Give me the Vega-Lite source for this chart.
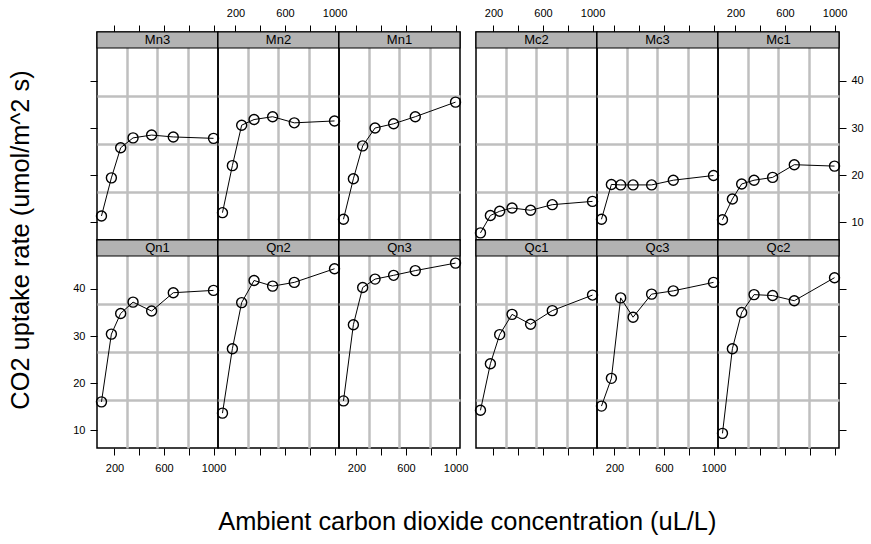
{
  "$schema": "https://vega.github.io/schema/vega-lite/v6.json",
  "padding": {"left": 8, "top": 6, "right": 5, "bottom": 5},
  "config": {
    "font": "Liberation Sans",
    "view": {"stroke": "black", "strokeWidth": 1.5},
    "axis": {"labelFont": "Liberation Sans", "labelColor": "black", "tickColor": "black", "tickWidth": 1, "labelFontSize": 11, "domain": false, "title": null, "labelFlush": false, "labelOverlap": false, "gridColor": "#bfbfbf", "gridWidth": 2.5, "gridOpacity": 1, "format": "d"},
    "title": {"font": "Liberation Sans", "fontWeight": "normal", "color": "black", "fontSize": 25.4}
  },
  "datasets": {
    "plants": [
      {"Plant": "Mn3"}, {"Plant": "Mn2"}, {"Plant": "Mn1"}, {"Plant": "Mc2"}, {"Plant": "Mc3"}, {"Plant": "Mc1"},
      {"Plant": "Qn1"}, {"Plant": "Qn2"}, {"Plant": "Qn3"}, {"Plant": "Qc1"}, {"Plant": "Qc3"}, {"Plant": "Qc2"}
    ],
    "co2": [
      {"Plant": "Qn1", "conc": 95, "uptake": 16.0}, {"Plant": "Qn1", "conc": 175, "uptake": 30.4}, {"Plant": "Qn1", "conc": 250, "uptake": 34.8}, {"Plant": "Qn1", "conc": 350, "uptake": 37.2}, {"Plant": "Qn1", "conc": 500, "uptake": 35.3}, {"Plant": "Qn1", "conc": 675, "uptake": 39.2}, {"Plant": "Qn1", "conc": 1000, "uptake": 39.7},
      {"Plant": "Qn2", "conc": 95, "uptake": 13.6}, {"Plant": "Qn2", "conc": 175, "uptake": 27.3}, {"Plant": "Qn2", "conc": 250, "uptake": 37.1}, {"Plant": "Qn2", "conc": 350, "uptake": 41.8}, {"Plant": "Qn2", "conc": 500, "uptake": 40.6}, {"Plant": "Qn2", "conc": 675, "uptake": 41.4}, {"Plant": "Qn2", "conc": 1000, "uptake": 44.3},
      {"Plant": "Qn3", "conc": 95, "uptake": 16.2}, {"Plant": "Qn3", "conc": 175, "uptake": 32.4}, {"Plant": "Qn3", "conc": 250, "uptake": 40.3}, {"Plant": "Qn3", "conc": 350, "uptake": 42.1}, {"Plant": "Qn3", "conc": 500, "uptake": 42.9}, {"Plant": "Qn3", "conc": 675, "uptake": 43.9}, {"Plant": "Qn3", "conc": 1000, "uptake": 45.5},
      {"Plant": "Qc1", "conc": 95, "uptake": 14.2}, {"Plant": "Qc1", "conc": 175, "uptake": 24.1}, {"Plant": "Qc1", "conc": 250, "uptake": 30.3}, {"Plant": "Qc1", "conc": 350, "uptake": 34.6}, {"Plant": "Qc1", "conc": 500, "uptake": 32.5}, {"Plant": "Qc1", "conc": 675, "uptake": 35.4}, {"Plant": "Qc1", "conc": 1000, "uptake": 38.7},
      {"Plant": "Qc2", "conc": 95, "uptake": 9.3}, {"Plant": "Qc2", "conc": 175, "uptake": 27.3}, {"Plant": "Qc2", "conc": 250, "uptake": 35.0}, {"Plant": "Qc2", "conc": 350, "uptake": 38.8}, {"Plant": "Qc2", "conc": 500, "uptake": 38.6}, {"Plant": "Qc2", "conc": 675, "uptake": 37.5}, {"Plant": "Qc2", "conc": 1000, "uptake": 42.4},
      {"Plant": "Qc3", "conc": 95, "uptake": 15.1}, {"Plant": "Qc3", "conc": 175, "uptake": 21.0}, {"Plant": "Qc3", "conc": 250, "uptake": 38.1}, {"Plant": "Qc3", "conc": 350, "uptake": 34.0}, {"Plant": "Qc3", "conc": 500, "uptake": 38.9}, {"Plant": "Qc3", "conc": 675, "uptake": 39.6}, {"Plant": "Qc3", "conc": 1000, "uptake": 41.4},
      {"Plant": "Mn1", "conc": 95, "uptake": 10.6}, {"Plant": "Mn1", "conc": 175, "uptake": 19.2}, {"Plant": "Mn1", "conc": 250, "uptake": 26.2}, {"Plant": "Mn1", "conc": 350, "uptake": 30.0}, {"Plant": "Mn1", "conc": 500, "uptake": 30.9}, {"Plant": "Mn1", "conc": 675, "uptake": 32.4}, {"Plant": "Mn1", "conc": 1000, "uptake": 35.5},
      {"Plant": "Mn2", "conc": 95, "uptake": 12.0}, {"Plant": "Mn2", "conc": 175, "uptake": 22.0}, {"Plant": "Mn2", "conc": 250, "uptake": 30.6}, {"Plant": "Mn2", "conc": 350, "uptake": 31.8}, {"Plant": "Mn2", "conc": 500, "uptake": 32.4}, {"Plant": "Mn2", "conc": 675, "uptake": 31.1}, {"Plant": "Mn2", "conc": 1000, "uptake": 31.5},
      {"Plant": "Mn3", "conc": 95, "uptake": 11.3}, {"Plant": "Mn3", "conc": 175, "uptake": 19.4}, {"Plant": "Mn3", "conc": 250, "uptake": 25.8}, {"Plant": "Mn3", "conc": 350, "uptake": 27.9}, {"Plant": "Mn3", "conc": 500, "uptake": 28.5}, {"Plant": "Mn3", "conc": 675, "uptake": 28.1}, {"Plant": "Mn3", "conc": 1000, "uptake": 27.8},
      {"Plant": "Mc1", "conc": 95, "uptake": 10.5}, {"Plant": "Mc1", "conc": 175, "uptake": 14.9}, {"Plant": "Mc1", "conc": 250, "uptake": 18.1}, {"Plant": "Mc1", "conc": 350, "uptake": 18.9}, {"Plant": "Mc1", "conc": 500, "uptake": 19.5}, {"Plant": "Mc1", "conc": 675, "uptake": 22.2}, {"Plant": "Mc1", "conc": 1000, "uptake": 21.9},
      {"Plant": "Mc2", "conc": 95, "uptake": 7.7}, {"Plant": "Mc2", "conc": 175, "uptake": 11.4}, {"Plant": "Mc2", "conc": 250, "uptake": 12.3}, {"Plant": "Mc2", "conc": 350, "uptake": 13.0}, {"Plant": "Mc2", "conc": 500, "uptake": 12.5}, {"Plant": "Mc2", "conc": 675, "uptake": 13.7}, {"Plant": "Mc2", "conc": 1000, "uptake": 14.4},
      {"Plant": "Mc3", "conc": 95, "uptake": 10.6}, {"Plant": "Mc3", "conc": 175, "uptake": 18.0}, {"Plant": "Mc3", "conc": 250, "uptake": 17.9}, {"Plant": "Mc3", "conc": 350, "uptake": 17.9}, {"Plant": "Mc3", "conc": 500, "uptake": 17.9}, {"Plant": "Mc3", "conc": 675, "uptake": 18.9}, {"Plant": "Mc3", "conc": 1000, "uptake": 19.9}
    ]
  },
  "title": {"text": "Ambient carbon dioxide concentration (uL/L)", "orient": "bottom", "anchor": "middle", "offset": 36, "dx": 31},
  "vconcat": [
    {
      "title": {"text": "CO2 uptake rate (umol/m^2 s)", "orient": "left", "anchor": "middle", "offset": 38},
      "columns": 7,
      "spacing": 0,
      "bounds": "flush",
      "concat": [
        {
          "width": 121, "height": 208,
          "resolve": {"axis": {"x": "independent", "y": "independent"}},
          "layer": [
            {"data": {"name": "co2"}, "transform": [{"filter": "datum.Plant == 'Mn3'"}], "mark": {"type": "line", "color": "black", "strokeWidth": 1},
             "encoding": {"x": {"field": "conc", "type": "quantitative", "scale": {"domain": [58.8, 1036.2], "nice": false, "zero": false}, "axis": {"orient": "bottom", "values": [303.15, 547.5, 791.85], "grid": true, "ticks": false, "labels": false}},
                          "y": {"field": "uptake", "type": "quantitative", "scale": {"domain": [6.19, 50.41], "nice": false, "zero": false}, "axis": {"orient": "left", "values": [16.395, 26.6, 36.805], "grid": true, "ticks": false, "labels": false}}}},
            {"data": {"name": "co2"}, "transform": [{"filter": "datum.Plant == 'Mn3'"}], "mark": {"type": "point", "shape": "circle", "filled": false, "color": "black", "opacity": 1, "size": 100, "strokeWidth": 1.4},
             "encoding": {"x": {"field": "conc", "type": "quantitative", "axis": {"orient": "top", "values": [200, 400, 600, 800, 1000], "grid": false, "tickSize": 7, "labels": false}},
                          "y": {"field": "uptake", "type": "quantitative", "axis": {"orient": "left", "values": [10, 20, 30, 40], "grid": false, "tickSize": 7, "labels": false}}}},
            {"data": {"name": "plants"}, "transform": [{"filter": "datum.Plant == 'Mn3'"}], "mark": {"type": "rect", "fill": "#b3b3b3", "stroke": "black", "strokeWidth": 1.2},
             "encoding": {"y": {"datum": 47.01, "type": "quantitative", "axis": null}, "y2": {"datum": 50.41}}},
            {"data": {"name": "plants"}, "transform": [{"filter": "datum.Plant == 'Mn3'"}], "mark": {"type": "text", "fontSize": 13, "color": "black", "baseline": "middle", "align": "center"},
             "encoding": {"x": {"datum": 547.5, "type": "quantitative", "axis": null}, "y": {"datum": 48.71, "type": "quantitative", "axis": null}, "text": {"field": "Plant"}}}
          ]
        },
        {
          "width": 121, "height": 208,
          "resolve": {"axis": {"x": "independent", "y": "independent"}},
          "layer": [
            {"data": {"name": "co2"}, "transform": [{"filter": "datum.Plant == 'Mn2'"}], "mark": {"type": "line", "color": "black", "strokeWidth": 1},
             "encoding": {"x": {"field": "conc", "type": "quantitative", "scale": {"domain": [58.8, 1036.2], "nice": false, "zero": false}, "axis": {"orient": "bottom", "values": [303.15, 547.5, 791.85], "grid": true, "ticks": false, "labels": false}},
                          "y": {"field": "uptake", "type": "quantitative", "scale": {"domain": [6.19, 50.41], "nice": false, "zero": false}, "axis": {"orient": "left", "values": [16.395, 26.6, 36.805], "grid": true, "ticks": false, "labels": false}}}},
            {"data": {"name": "co2"}, "transform": [{"filter": "datum.Plant == 'Mn2'"}], "mark": {"type": "point", "shape": "circle", "filled": false, "color": "black", "opacity": 1, "size": 100, "strokeWidth": 1.4},
             "encoding": {"x": {"field": "conc", "type": "quantitative", "axis": {"orient": "top", "values": [200, 400, 600, 800, 1000], "grid": false, "tickSize": 7, "labelPadding": 7, "labelExpr": "datum.value == 400 || datum.value == 800 ? '' : datum.label"}},
                          "y": {"field": "uptake", "type": "quantitative", "axis": null}}},
            {"data": {"name": "plants"}, "transform": [{"filter": "datum.Plant == 'Mn2'"}], "mark": {"type": "rect", "fill": "#b3b3b3", "stroke": "black", "strokeWidth": 1.2},
             "encoding": {"y": {"datum": 47.01, "type": "quantitative", "axis": null}, "y2": {"datum": 50.41}}},
            {"data": {"name": "plants"}, "transform": [{"filter": "datum.Plant == 'Mn2'"}], "mark": {"type": "text", "fontSize": 13, "color": "black", "baseline": "middle", "align": "center"},
             "encoding": {"x": {"datum": 547.5, "type": "quantitative", "axis": null}, "y": {"datum": 48.71, "type": "quantitative", "axis": null}, "text": {"field": "Plant"}}}
          ]
        },
        {
          "width": 121, "height": 208,
          "resolve": {"axis": {"x": "independent", "y": "independent"}},
          "layer": [
            {"data": {"name": "co2"}, "transform": [{"filter": "datum.Plant == 'Mn1'"}], "mark": {"type": "line", "color": "black", "strokeWidth": 1},
             "encoding": {"x": {"field": "conc", "type": "quantitative", "scale": {"domain": [58.8, 1036.2], "nice": false, "zero": false}, "axis": {"orient": "bottom", "values": [303.15, 547.5, 791.85], "grid": true, "ticks": false, "labels": false}},
                          "y": {"field": "uptake", "type": "quantitative", "scale": {"domain": [6.19, 50.41], "nice": false, "zero": false}, "axis": {"orient": "left", "values": [16.395, 26.6, 36.805], "grid": true, "ticks": false, "labels": false}}}},
            {"data": {"name": "co2"}, "transform": [{"filter": "datum.Plant == 'Mn1'"}], "mark": {"type": "point", "shape": "circle", "filled": false, "color": "black", "opacity": 1, "size": 100, "strokeWidth": 1.4},
             "encoding": {"x": {"field": "conc", "type": "quantitative", "axis": {"orient": "top", "values": [200, 400, 600, 800, 1000], "grid": false, "tickSize": 7, "labels": false}},
                          "y": {"field": "uptake", "type": "quantitative", "axis": null}}},
            {"data": {"name": "plants"}, "transform": [{"filter": "datum.Plant == 'Mn1'"}], "mark": {"type": "rect", "fill": "#b3b3b3", "stroke": "black", "strokeWidth": 1.2},
             "encoding": {"y": {"datum": 47.01, "type": "quantitative", "axis": null}, "y2": {"datum": 50.41}}},
            {"data": {"name": "plants"}, "transform": [{"filter": "datum.Plant == 'Mn1'"}], "mark": {"type": "text", "fontSize": 13, "color": "black", "baseline": "middle", "align": "center"},
             "encoding": {"x": {"datum": 547.5, "type": "quantitative", "axis": null}, "y": {"datum": 48.71, "type": "quantitative", "axis": null}, "text": {"field": "Plant"}}}
          ]
        },
        {
          "width": 16, "height": 208, "view": {"stroke": null},
          "data": {"values": []}, "mark": "point", "encoding": {}
        },
        {
          "width": 121, "height": 208,
          "resolve": {"axis": {"x": "independent", "y": "independent"}},
          "layer": [
            {"data": {"name": "co2"}, "transform": [{"filter": "datum.Plant == 'Mc2'"}], "mark": {"type": "line", "color": "black", "strokeWidth": 1},
             "encoding": {"x": {"field": "conc", "type": "quantitative", "scale": {"domain": [58.8, 1036.2], "nice": false, "zero": false}, "axis": {"orient": "bottom", "values": [303.15, 547.5, 791.85], "grid": true, "ticks": false, "labels": false}},
                          "y": {"field": "uptake", "type": "quantitative", "scale": {"domain": [6.19, 50.41], "nice": false, "zero": false}, "axis": {"orient": "left", "values": [16.395, 26.6, 36.805], "grid": true, "ticks": false, "labels": false}}}},
            {"data": {"name": "co2"}, "transform": [{"filter": "datum.Plant == 'Mc2'"}], "mark": {"type": "point", "shape": "circle", "filled": false, "color": "black", "opacity": 1, "size": 100, "strokeWidth": 1.4},
             "encoding": {"x": {"field": "conc", "type": "quantitative", "axis": {"orient": "top", "values": [200, 400, 600, 800, 1000], "grid": false, "tickSize": 7, "labelPadding": 7, "labelExpr": "datum.value == 400 || datum.value == 800 ? '' : datum.label"}},
                          "y": {"field": "uptake", "type": "quantitative", "axis": null}}},
            {"data": {"name": "plants"}, "transform": [{"filter": "datum.Plant == 'Mc2'"}], "mark": {"type": "rect", "fill": "#b3b3b3", "stroke": "black", "strokeWidth": 1.2},
             "encoding": {"y": {"datum": 47.01, "type": "quantitative", "axis": null}, "y2": {"datum": 50.41}}},
            {"data": {"name": "plants"}, "transform": [{"filter": "datum.Plant == 'Mc2'"}], "mark": {"type": "text", "fontSize": 13, "color": "black", "baseline": "middle", "align": "center"},
             "encoding": {"x": {"datum": 547.5, "type": "quantitative", "axis": null}, "y": {"datum": 48.71, "type": "quantitative", "axis": null}, "text": {"field": "Plant"}}}
          ]
        },
        {
          "width": 121, "height": 208,
          "resolve": {"axis": {"x": "independent", "y": "independent"}},
          "layer": [
            {"data": {"name": "co2"}, "transform": [{"filter": "datum.Plant == 'Mc3'"}], "mark": {"type": "line", "color": "black", "strokeWidth": 1},
             "encoding": {"x": {"field": "conc", "type": "quantitative", "scale": {"domain": [58.8, 1036.2], "nice": false, "zero": false}, "axis": {"orient": "bottom", "values": [303.15, 547.5, 791.85], "grid": true, "ticks": false, "labels": false}},
                          "y": {"field": "uptake", "type": "quantitative", "scale": {"domain": [6.19, 50.41], "nice": false, "zero": false}, "axis": {"orient": "left", "values": [16.395, 26.6, 36.805], "grid": true, "ticks": false, "labels": false}}}},
            {"data": {"name": "co2"}, "transform": [{"filter": "datum.Plant == 'Mc3'"}], "mark": {"type": "point", "shape": "circle", "filled": false, "color": "black", "opacity": 1, "size": 100, "strokeWidth": 1.4},
             "encoding": {"x": {"field": "conc", "type": "quantitative", "axis": {"orient": "top", "values": [200, 400, 600, 800, 1000], "grid": false, "tickSize": 7, "labels": false}},
                          "y": {"field": "uptake", "type": "quantitative", "axis": null}}},
            {"data": {"name": "plants"}, "transform": [{"filter": "datum.Plant == 'Mc3'"}], "mark": {"type": "rect", "fill": "#b3b3b3", "stroke": "black", "strokeWidth": 1.2},
             "encoding": {"y": {"datum": 47.01, "type": "quantitative", "axis": null}, "y2": {"datum": 50.41}}},
            {"data": {"name": "plants"}, "transform": [{"filter": "datum.Plant == 'Mc3'"}], "mark": {"type": "text", "fontSize": 13, "color": "black", "baseline": "middle", "align": "center"},
             "encoding": {"x": {"datum": 547.5, "type": "quantitative", "axis": null}, "y": {"datum": 48.71, "type": "quantitative", "axis": null}, "text": {"field": "Plant"}}}
          ]
        },
        {
          "width": 121, "height": 208,
          "resolve": {"axis": {"x": "independent", "y": "independent"}},
          "layer": [
            {"data": {"name": "co2"}, "transform": [{"filter": "datum.Plant == 'Mc1'"}], "mark": {"type": "line", "color": "black", "strokeWidth": 1},
             "encoding": {"x": {"field": "conc", "type": "quantitative", "scale": {"domain": [58.8, 1036.2], "nice": false, "zero": false}, "axis": {"orient": "bottom", "values": [303.15, 547.5, 791.85], "grid": true, "ticks": false, "labels": false}},
                          "y": {"field": "uptake", "type": "quantitative", "scale": {"domain": [6.19, 50.41], "nice": false, "zero": false}, "axis": {"orient": "left", "values": [16.395, 26.6, 36.805], "grid": true, "ticks": false, "labels": false}}}},
            {"data": {"name": "co2"}, "transform": [{"filter": "datum.Plant == 'Mc1'"}], "mark": {"type": "point", "shape": "circle", "filled": false, "color": "black", "opacity": 1, "size": 100, "strokeWidth": 1.4},
             "encoding": {"x": {"field": "conc", "type": "quantitative", "axis": {"orient": "top", "values": [200, 400, 600, 800, 1000], "grid": false, "tickSize": 7, "labelPadding": 7, "labelExpr": "datum.value == 400 || datum.value == 800 ? '' : datum.label"}},
                          "y": {"field": "uptake", "type": "quantitative", "axis": {"orient": "right", "values": [10, 20, 30, 40], "grid": false, "tickSize": 7, "labelPadding": 5}}}},
            {"data": {"name": "plants"}, "transform": [{"filter": "datum.Plant == 'Mc1'"}], "mark": {"type": "rect", "fill": "#b3b3b3", "stroke": "black", "strokeWidth": 1.2},
             "encoding": {"y": {"datum": 47.01, "type": "quantitative", "axis": null}, "y2": {"datum": 50.41}}},
            {"data": {"name": "plants"}, "transform": [{"filter": "datum.Plant == 'Mc1'"}], "mark": {"type": "text", "fontSize": 13, "color": "black", "baseline": "middle", "align": "center"},
             "encoding": {"x": {"datum": 547.5, "type": "quantitative", "axis": null}, "y": {"datum": 48.71, "type": "quantitative", "axis": null}, "text": {"field": "Plant"}}}
          ]
        },
        {
          "width": 121, "height": 208,
          "resolve": {"axis": {"x": "independent", "y": "independent"}},
          "layer": [
            {"data": {"name": "co2"}, "transform": [{"filter": "datum.Plant == 'Qn1'"}], "mark": {"type": "line", "color": "black", "strokeWidth": 1},
             "encoding": {"x": {"field": "conc", "type": "quantitative", "scale": {"domain": [58.8, 1036.2], "nice": false, "zero": false}, "axis": {"orient": "bottom", "values": [303.15, 547.5, 791.85], "grid": true, "ticks": false, "labels": false}},
                          "y": {"field": "uptake", "type": "quantitative", "scale": {"domain": [6.19, 50.41], "nice": false, "zero": false}, "axis": {"orient": "left", "values": [16.395, 26.6, 36.805], "grid": true, "ticks": false, "labels": false}}}},
            {"data": {"name": "co2"}, "transform": [{"filter": "datum.Plant == 'Qn1'"}], "mark": {"type": "point", "shape": "circle", "filled": false, "color": "black", "opacity": 1, "size": 100, "strokeWidth": 1.4},
             "encoding": {"x": {"field": "conc", "type": "quantitative", "axis": {"orient": "bottom", "values": [200, 400, 600, 800, 1000], "grid": false, "tickSize": 7, "labelPadding": 7, "labelExpr": "datum.value == 400 || datum.value == 800 ? '' : datum.label"}},
                          "y": {"field": "uptake", "type": "quantitative", "axis": {"orient": "left", "values": [10, 20, 30, 40], "grid": false, "tickSize": 7, "labelPadding": 5}}}},
            {"data": {"name": "plants"}, "transform": [{"filter": "datum.Plant == 'Qn1'"}], "mark": {"type": "rect", "fill": "#b3b3b3", "stroke": "black", "strokeWidth": 1.2},
             "encoding": {"y": {"datum": 47.01, "type": "quantitative", "axis": null}, "y2": {"datum": 50.41}}},
            {"data": {"name": "plants"}, "transform": [{"filter": "datum.Plant == 'Qn1'"}], "mark": {"type": "text", "fontSize": 13, "color": "black", "baseline": "middle", "align": "center"},
             "encoding": {"x": {"datum": 547.5, "type": "quantitative", "axis": null}, "y": {"datum": 48.71, "type": "quantitative", "axis": null}, "text": {"field": "Plant"}}}
          ]
        },
        {
          "width": 121, "height": 208,
          "resolve": {"axis": {"x": "independent", "y": "independent"}},
          "layer": [
            {"data": {"name": "co2"}, "transform": [{"filter": "datum.Plant == 'Qn2'"}], "mark": {"type": "line", "color": "black", "strokeWidth": 1},
             "encoding": {"x": {"field": "conc", "type": "quantitative", "scale": {"domain": [58.8, 1036.2], "nice": false, "zero": false}, "axis": {"orient": "bottom", "values": [303.15, 547.5, 791.85], "grid": true, "ticks": false, "labels": false}},
                          "y": {"field": "uptake", "type": "quantitative", "scale": {"domain": [6.19, 50.41], "nice": false, "zero": false}, "axis": {"orient": "left", "values": [16.395, 26.6, 36.805], "grid": true, "ticks": false, "labels": false}}}},
            {"data": {"name": "co2"}, "transform": [{"filter": "datum.Plant == 'Qn2'"}], "mark": {"type": "point", "shape": "circle", "filled": false, "color": "black", "opacity": 1, "size": 100, "strokeWidth": 1.4},
             "encoding": {"x": {"field": "conc", "type": "quantitative", "axis": {"orient": "bottom", "values": [200, 400, 600, 800, 1000], "grid": false, "tickSize": 7, "labels": false}},
                          "y": {"field": "uptake", "type": "quantitative", "axis": null}}},
            {"data": {"name": "plants"}, "transform": [{"filter": "datum.Plant == 'Qn2'"}], "mark": {"type": "rect", "fill": "#b3b3b3", "stroke": "black", "strokeWidth": 1.2},
             "encoding": {"y": {"datum": 47.01, "type": "quantitative", "axis": null}, "y2": {"datum": 50.41}}},
            {"data": {"name": "plants"}, "transform": [{"filter": "datum.Plant == 'Qn2'"}], "mark": {"type": "text", "fontSize": 13, "color": "black", "baseline": "middle", "align": "center"},
             "encoding": {"x": {"datum": 547.5, "type": "quantitative", "axis": null}, "y": {"datum": 48.71, "type": "quantitative", "axis": null}, "text": {"field": "Plant"}}}
          ]
        },
        {
          "width": 121, "height": 208,
          "resolve": {"axis": {"x": "independent", "y": "independent"}},
          "layer": [
            {"data": {"name": "co2"}, "transform": [{"filter": "datum.Plant == 'Qn3'"}], "mark": {"type": "line", "color": "black", "strokeWidth": 1},
             "encoding": {"x": {"field": "conc", "type": "quantitative", "scale": {"domain": [58.8, 1036.2], "nice": false, "zero": false}, "axis": {"orient": "bottom", "values": [303.15, 547.5, 791.85], "grid": true, "ticks": false, "labels": false}},
                          "y": {"field": "uptake", "type": "quantitative", "scale": {"domain": [6.19, 50.41], "nice": false, "zero": false}, "axis": {"orient": "left", "values": [16.395, 26.6, 36.805], "grid": true, "ticks": false, "labels": false}}}},
            {"data": {"name": "co2"}, "transform": [{"filter": "datum.Plant == 'Qn3'"}], "mark": {"type": "point", "shape": "circle", "filled": false, "color": "black", "opacity": 1, "size": 100, "strokeWidth": 1.4},
             "encoding": {"x": {"field": "conc", "type": "quantitative", "axis": {"orient": "bottom", "values": [200, 400, 600, 800, 1000], "grid": false, "tickSize": 7, "labelPadding": 7, "labelExpr": "datum.value == 400 || datum.value == 800 ? '' : datum.label"}},
                          "y": {"field": "uptake", "type": "quantitative", "axis": null}}},
            {"data": {"name": "plants"}, "transform": [{"filter": "datum.Plant == 'Qn3'"}], "mark": {"type": "rect", "fill": "#b3b3b3", "stroke": "black", "strokeWidth": 1.2},
             "encoding": {"y": {"datum": 47.01, "type": "quantitative", "axis": null}, "y2": {"datum": 50.41}}},
            {"data": {"name": "plants"}, "transform": [{"filter": "datum.Plant == 'Qn3'"}], "mark": {"type": "text", "fontSize": 13, "color": "black", "baseline": "middle", "align": "center"},
             "encoding": {"x": {"datum": 547.5, "type": "quantitative", "axis": null}, "y": {"datum": 48.71, "type": "quantitative", "axis": null}, "text": {"field": "Plant"}}}
          ]
        },
        {
          "width": 16, "height": 208, "view": {"stroke": null},
          "data": {"values": []}, "mark": "point", "encoding": {}
        },
        {
          "width": 121, "height": 208,
          "resolve": {"axis": {"x": "independent", "y": "independent"}},
          "layer": [
            {"data": {"name": "co2"}, "transform": [{"filter": "datum.Plant == 'Qc1'"}], "mark": {"type": "line", "color": "black", "strokeWidth": 1},
             "encoding": {"x": {"field": "conc", "type": "quantitative", "scale": {"domain": [58.8, 1036.2], "nice": false, "zero": false}, "axis": {"orient": "bottom", "values": [303.15, 547.5, 791.85], "grid": true, "ticks": false, "labels": false}},
                          "y": {"field": "uptake", "type": "quantitative", "scale": {"domain": [6.19, 50.41], "nice": false, "zero": false}, "axis": {"orient": "left", "values": [16.395, 26.6, 36.805], "grid": true, "ticks": false, "labels": false}}}},
            {"data": {"name": "co2"}, "transform": [{"filter": "datum.Plant == 'Qc1'"}], "mark": {"type": "point", "shape": "circle", "filled": false, "color": "black", "opacity": 1, "size": 100, "strokeWidth": 1.4},
             "encoding": {"x": {"field": "conc", "type": "quantitative", "axis": {"orient": "bottom", "values": [200, 400, 600, 800, 1000], "grid": false, "tickSize": 7, "labels": false}},
                          "y": {"field": "uptake", "type": "quantitative", "axis": null}}},
            {"data": {"name": "plants"}, "transform": [{"filter": "datum.Plant == 'Qc1'"}], "mark": {"type": "rect", "fill": "#b3b3b3", "stroke": "black", "strokeWidth": 1.2},
             "encoding": {"y": {"datum": 47.01, "type": "quantitative", "axis": null}, "y2": {"datum": 50.41}}},
            {"data": {"name": "plants"}, "transform": [{"filter": "datum.Plant == 'Qc1'"}], "mark": {"type": "text", "fontSize": 13, "color": "black", "baseline": "middle", "align": "center"},
             "encoding": {"x": {"datum": 547.5, "type": "quantitative", "axis": null}, "y": {"datum": 48.71, "type": "quantitative", "axis": null}, "text": {"field": "Plant"}}}
          ]
        },
        {
          "width": 121, "height": 208,
          "resolve": {"axis": {"x": "independent", "y": "independent"}},
          "layer": [
            {"data": {"name": "co2"}, "transform": [{"filter": "datum.Plant == 'Qc3'"}], "mark": {"type": "line", "color": "black", "strokeWidth": 1},
             "encoding": {"x": {"field": "conc", "type": "quantitative", "scale": {"domain": [58.8, 1036.2], "nice": false, "zero": false}, "axis": {"orient": "bottom", "values": [303.15, 547.5, 791.85], "grid": true, "ticks": false, "labels": false}},
                          "y": {"field": "uptake", "type": "quantitative", "scale": {"domain": [6.19, 50.41], "nice": false, "zero": false}, "axis": {"orient": "left", "values": [16.395, 26.6, 36.805], "grid": true, "ticks": false, "labels": false}}}},
            {"data": {"name": "co2"}, "transform": [{"filter": "datum.Plant == 'Qc3'"}], "mark": {"type": "point", "shape": "circle", "filled": false, "color": "black", "opacity": 1, "size": 100, "strokeWidth": 1.4},
             "encoding": {"x": {"field": "conc", "type": "quantitative", "axis": {"orient": "bottom", "values": [200, 400, 600, 800, 1000], "grid": false, "tickSize": 7, "labelPadding": 7, "labelExpr": "datum.value == 400 || datum.value == 800 ? '' : datum.label"}},
                          "y": {"field": "uptake", "type": "quantitative", "axis": null}}},
            {"data": {"name": "plants"}, "transform": [{"filter": "datum.Plant == 'Qc3'"}], "mark": {"type": "rect", "fill": "#b3b3b3", "stroke": "black", "strokeWidth": 1.2},
             "encoding": {"y": {"datum": 47.01, "type": "quantitative", "axis": null}, "y2": {"datum": 50.41}}},
            {"data": {"name": "plants"}, "transform": [{"filter": "datum.Plant == 'Qc3'"}], "mark": {"type": "text", "fontSize": 13, "color": "black", "baseline": "middle", "align": "center"},
             "encoding": {"x": {"datum": 547.5, "type": "quantitative", "axis": null}, "y": {"datum": 48.71, "type": "quantitative", "axis": null}, "text": {"field": "Plant"}}}
          ]
        },
        {
          "width": 121, "height": 208,
          "resolve": {"axis": {"x": "independent", "y": "independent"}},
          "layer": [
            {"data": {"name": "co2"}, "transform": [{"filter": "datum.Plant == 'Qc2'"}], "mark": {"type": "line", "color": "black", "strokeWidth": 1},
             "encoding": {"x": {"field": "conc", "type": "quantitative", "scale": {"domain": [58.8, 1036.2], "nice": false, "zero": false}, "axis": {"orient": "bottom", "values": [303.15, 547.5, 791.85], "grid": true, "ticks": false, "labels": false}},
                          "y": {"field": "uptake", "type": "quantitative", "scale": {"domain": [6.19, 50.41], "nice": false, "zero": false}, "axis": {"orient": "left", "values": [16.395, 26.6, 36.805], "grid": true, "ticks": false, "labels": false}}}},
            {"data": {"name": "co2"}, "transform": [{"filter": "datum.Plant == 'Qc2'"}], "mark": {"type": "point", "shape": "circle", "filled": false, "color": "black", "opacity": 1, "size": 100, "strokeWidth": 1.4},
             "encoding": {"x": {"field": "conc", "type": "quantitative", "axis": {"orient": "bottom", "values": [200, 400, 600, 800, 1000], "grid": false, "tickSize": 7, "labels": false}},
                          "y": {"field": "uptake", "type": "quantitative", "axis": {"orient": "right", "values": [10, 20, 30, 40], "grid": false, "tickSize": 7, "labels": false}}}},
            {"data": {"name": "plants"}, "transform": [{"filter": "datum.Plant == 'Qc2'"}], "mark": {"type": "rect", "fill": "#b3b3b3", "stroke": "black", "strokeWidth": 1.2},
             "encoding": {"y": {"datum": 47.01, "type": "quantitative", "axis": null}, "y2": {"datum": 50.41}}},
            {"data": {"name": "plants"}, "transform": [{"filter": "datum.Plant == 'Qc2'"}], "mark": {"type": "text", "fontSize": 13, "color": "black", "baseline": "middle", "align": "center"},
             "encoding": {"x": {"datum": 547.5, "type": "quantitative", "axis": null}, "y": {"datum": 48.71, "type": "quantitative", "axis": null}, "text": {"field": "Plant"}}}
          ]
        }
      ]
    }
  ]
}
